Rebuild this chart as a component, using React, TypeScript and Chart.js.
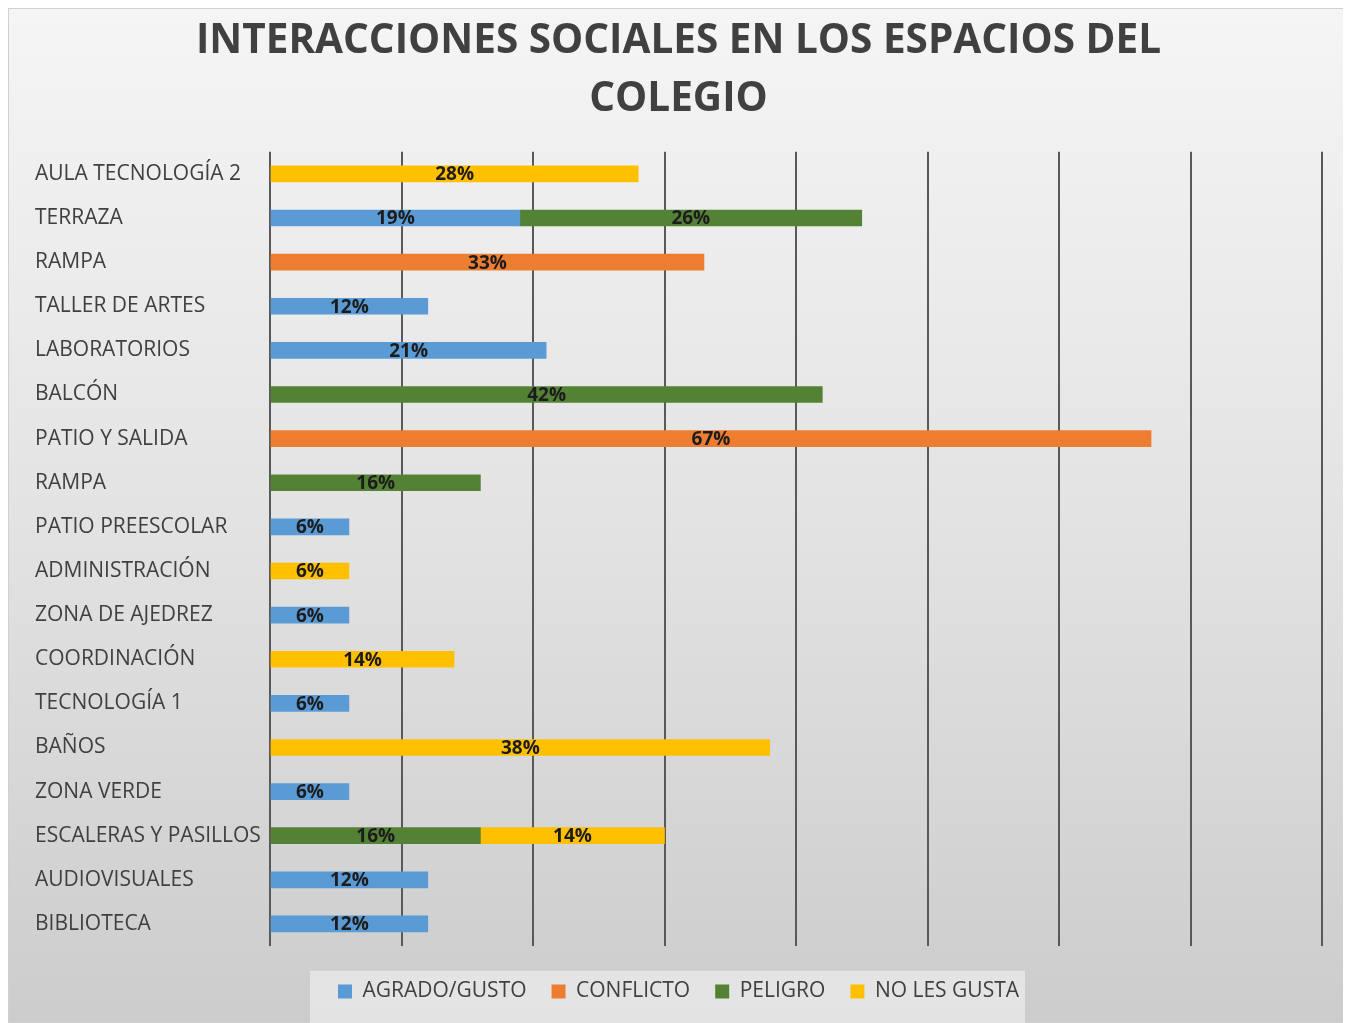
import React, { useEffect, useRef } from "react";
import { Chart, registerables } from "chart.js";

Chart.register(...registerables);

const titleLines = ["INTERACCIONES SOCIALES EN LOS ESPACIOS DEL", "COLEGIO"];

const categories = [
  "AULA TECNOLOGÍA 2",
  "TERRAZA",
  "RAMPA",
  "TALLER DE ARTES",
  "LABORATORIOS",
  "BALCÓN",
  "PATIO Y SALIDA",
  "RAMPA",
  "PATIO PREESCOLAR",
  "ADMINISTRACIÓN",
  "ZONA DE AJEDREZ",
  "COORDINACIÓN",
  "TECNOLOGÍA 1",
  "BAÑOS",
  "ZONA VERDE",
  "ESCALERAS Y PASILLOS",
  "AUDIOVISUALES",
  "BIBLIOTECA",
];

const agradoGusto = [null, 19, null, 12, 21, null, null, null, 6, null, 6, null, 6, null, 6, null, 12, 12];
const conflicto = [null, null, 33, null, null, null, 67, null, null, null, null, null, null, null, null, null, null, null];
const peligro = [null, 26, null, null, null, 42, null, 16, null, null, null, null, null, null, null, 16, null, null];
const noLesGusta = [28, null, null, null, null, null, null, null, null, 6, null, 14, null, 38, null, 14, null, null];

const seriesNames = ["AGRADO/GUSTO", "CONFLICTO", "PELIGRO", "NO LES GUSTA"];
const seriesColors = ["#5B9BD5", "#ED7D31", "#548235", "#FFC000"];

const xMax = 80;
const xStep = 10;

const bgPlugin = {
  id: "bgPlugin",
  beforeDraw(chart: any) {
    const { ctx, width, height } = chart;
    ctx.save();
    const g = ctx.createLinearGradient(0, 0, 0, height);
    g.addColorStop(0, "#f5f5f5");
    g.addColorStop(0.5, "#e3e3e3");
    g.addColorStop(1, "#cccccc");
    ctx.fillStyle = g;
    ctx.fillRect(0, 0, width, height);
    ctx.strokeStyle = "#d0d0d0";
    ctx.lineWidth = 1;
    ctx.strokeRect(0.5, 0.5, width - 1, height - 1);
    const legend = chart.legend;
    if (legend && legend.legendHitBoxes && legend.legendHitBoxes.length) {
      const boxes = legend.legendHitBoxes;
      const first = boxes[0];
      const last = boxes[boxes.length - 1];
      const left = first.left - 28;
      const right = last.left + last.width + 6;
      const top = first.top - 10;
      ctx.fillStyle = "rgba(235,235,235,0.75)";
      ctx.fillRect(left, top, right - left, height - top);
    }
    ctx.restore();
  },
};

const labelPlugin = {
  id: "labelPlugin",
  afterDatasetsDraw(chart: any) {
    const { ctx } = chart;
    ctx.save();
    ctx.font = "bold 19px 'Open Sans'";
    ctx.fillStyle = "#1c1c1c";
    ctx.textAlign = "center";
    ctx.textBaseline = "middle";
    chart.data.datasets.forEach((ds: any, i: number) => {
      const meta = chart.getDatasetMeta(i);
      meta.data.forEach((bar: any, j: number) => {
        const v = ds.data[j];
        if (v === null || v === undefined) return;
        const x = (bar.x + bar.base) / 2;
        ctx.fillText(v + "%", x, bar.y + 1);
      });
    });
    ctx.restore();
  },
};

export default function App() {
  const ref = useRef<HTMLCanvasElement | null>(null);

  useEffect(() => {
    document.documentElement.style.overflow = "hidden";
    const canvas = ref.current;
    if (!canvas) return;
    const data = [agradoGusto, conflicto, peligro, noLesGusta];
    const chart = new Chart(canvas, {
      type: "bar",
      data: {
        labels: categories,
        datasets: data.map((d, i) => ({
          label: seriesNames[i],
          data: d,
          backgroundColor: seriesColors[i],
          borderWidth: 0,
          barThickness: 16,
        })),
      },
      options: {
        indexAxis: "y",
        responsive: false,
        animation: false,
        layout: { padding: { left: 27, right: 23, top: 0, bottom: 11 } },
        scales: {
          x: {
            stacked: true,
            min: 0,
            max: xMax,
            ticks: { display: false, stepSize: xStep },
            grid: { color: "#595959", lineWidth: 2, drawTicks: false },
            border: { display: false },
            afterFit(scale: any) {
              scale.height = 10;
            },
          },
          y: {
            stacked: true,
            ticks: {
              crossAlign: "far",
              color: "#404040",
              font: { family: "'Open Sans'", size: 21 },
            },
            grid: { display: false, drawTicks: false },
            border: { display: false },
            afterFit(scale: any) {
              scale.width = 235;
            },
          },
        },
        plugins: {
          title: {
            display: true,
            text: titleLines,
            color: "#404040",
            font: { family: "'Open Sans'", size: 40.5, weight: "bold", lineHeight: 1.43 },
            padding: { top: 5, bottom: 23 },
          },
          legend: {
            position: "bottom",
            labels: {
              boxWidth: 14,
              boxHeight: 14,
              color: "#404040",
              font: { family: "'Open Sans'", size: 21 },
              padding: 25,
            },
          },
          tooltip: { enabled: false },
        },
      },
      plugins: [bgPlugin, labelPlugin],
    });
    return () => chart.destroy();
  }, []);

  return <canvas ref={ref} width={1337} height={1015} style={{ display: "block" }} />;
}
